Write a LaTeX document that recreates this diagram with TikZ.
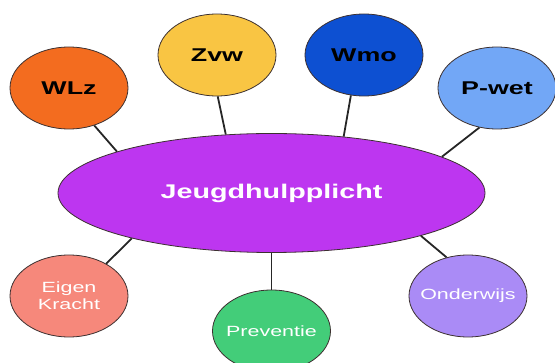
\documentclass[tikz,border=0pt]{standalone}
\usepackage{fontspec}
\setmainfont[FakeStretch=1.45]{Liberation Sans}
\usetikzlibrary{shapes.geometric}
\definecolor{wlzorange}{HTML}{F36C1F}
\definecolor{zvwyellow}{HTML}{F9C543}
\definecolor{wmoblue}{HTML}{0D50D2}
\definecolor{pwetblue}{HTML}{72A7F6}
\definecolor{jhpurple}{HTML}{BD36F0}
\definecolor{ekred}{HTML}{F6887B}
\definecolor{prevgreen}{HTML}{43CD79}
\definecolor{ondlilac}{HTML}{AA8BF6}
\definecolor{rim}{HTML}{3C3030}

\begin{document}
\begin{tikzpicture}[x=1pt,y=1pt,
  law/.style={ellipse,draw=rim,line width=0.8pt,minimum width=118pt,minimum height=82pt,font=\fontsize{18.5}{22}\selectfont\bfseries},
  aid/.style={ellipse,draw=rim,line width=0.8pt,inner xsep=-20pt,minimum width=118pt,minimum height=82pt,text=white,align=center,font=\fontsize{14.8}{17}\selectfont},
  hub/.style={ellipse,draw=rim,line width=0.8pt,minimum width=427pt,minimum height=119pt,text=white,font=\fontsize{19.8}{23}\selectfont\bfseries},
  link/.style={line width=1.8pt,draw=black!85}]
\tikzstyle{every node}+=[inner sep=0pt]
\useasboundingbox (0,0) rectangle (555,-363);
\node [hub,fill=jhpurple] (jhp) at (271.5,-193) {Jeugdhulpplicht};
\node [law,fill=wlzorange] (wlz) at (69,-88) {WLz};
\node [law,fill=zvwyellow] (zvw) at (217,-55) {Zvw};
\node [law,fill=wmoblue] (wmo) at (364,-55) {Wmo};
\node [law,fill=pwetblue] (pwet) at (497,-88) {P-wet};
\node [aid,fill=ekred] (ek) at (69,-296) {Eigen\\Kracht};
\node [aid,fill=prevgreen] (prev) at (271.5,-331) {Preventie};
\node [aid,fill=ondlilac] (ond) at (468,-296) {Onderwijs};
\draw [link] (wlz.-56) -- (jhp.165);
\draw [link] (zvw.-89) -- (jhp.128);
\draw [link] (wmo.-108) -- (jhp.38);
\draw [link] (pwet.-114) -- (jhp.12.6);
\draw [link] (ek.41) -- (jhp.198);
\draw [link] (prev.90) -- (jhp.-90);
\draw [link] (ond.119) -- (jhp.-16.5);
\end{tikzpicture}
\end{document}
